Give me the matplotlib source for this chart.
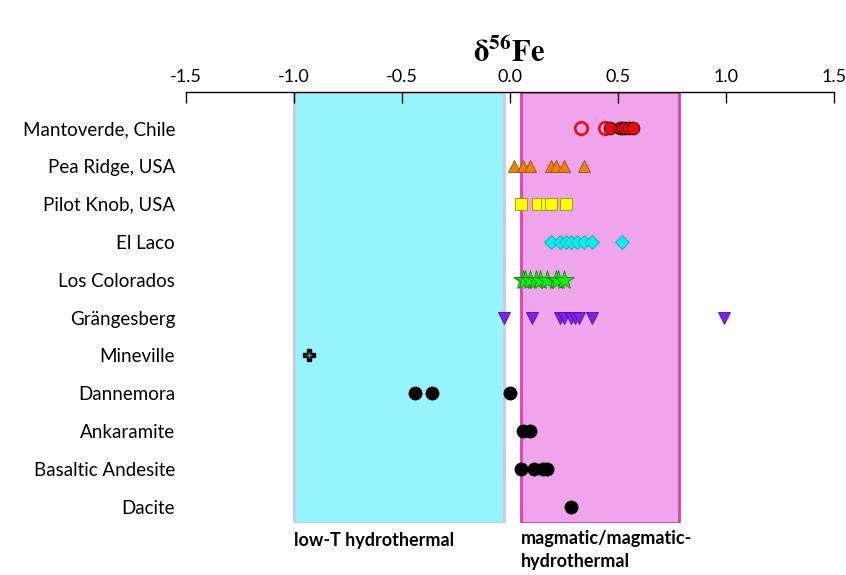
import numpy as np
import matplotlib.pyplot as plt

plt.rcParams['font.family'] = ['Lato', 'DejaVu Sans']

localities = ['Mantoverde, Chile', 'Pea Ridge, USA', 'Pilot Knob, USA', 'El Laco',
              'Los Colorados', 'Grängesberg', 'Mineville', 'Dannemora',
              'Ankaramite', 'Basaltic Andesite', 'Dacite']

# d56Fe values
mantoverde_open = [0.33, 0.44]
mantoverde = [0.46, 0.51, 0.52, 0.53, 0.55, 0.57]
pea_ridge = [0.02, 0.06, 0.09, 0.19, 0.21, 0.25, 0.34]
pilot_knob = [0.05, 0.13, 0.17, 0.19, 0.26]
el_laco = [0.19, 0.23, 0.26, 0.28, 0.31, 0.34, 0.38, 0.52]
los_colorados = [0.06, 0.07, 0.09, 0.12, 0.14, 0.17, 0.21, 0.22, 0.25]
grangesberg = [-0.03, 0.10, 0.23, 0.25, 0.28, 0.30, 0.32, 0.38, 0.99]
mineville = [-0.93]
dannemora = [-0.44, -0.36, 0.0]
ankaramite = [0.06, 0.09]
basaltic_andesite = [0.05, 0.11, 0.15, 0.17]
dacite = [0.28]

low_T = (-1.0, -0.03)
magmatic = (0.05, 0.78)

fig = plt.figure(figsize=(8.46, 5.75), dpi=100)
ax = fig.add_axes([0.22, 0.0904, 0.766, 0.7496])

ax.axvspan(*low_T, facecolor='#95f4fc', edgecolor='#c8c8f6', lw=2, zorder=0)
ax.axvspan(*magmatic, facecolor='#efa5ea', edgecolor='#e03fb0', lw=2, zorder=0)

def row(vals, i):
    return vals, np.full(len(vals), i)

ms = 9
ax.plot(*row(mantoverde_open, 0), 'o', ls='none', ms=ms, mfc='none', mec='red', mew=1.8)
ax.plot(*row(mantoverde, 0), 'o', ls='none', ms=ms, mfc='red', mec='#400000', mew=0.8)
ax.plot(*row(pea_ridge, 1), '^', ls='none', ms=ms, mfc='#f08000', mec='#905020', mew=0.6)
ax.plot(*row(pilot_knob, 2), 's', ls='none', ms=8.5, mfc='#ffff00', mec='#a09000', mew=0.6)
ax.plot(*row(el_laco, 3), 'D', ls='none', ms=7.5, mfc='#00f0f0', mec='#20a0a0', mew=0.6)
ax.plot(*row(los_colorados, 4), '*', ls='none', ms=15, mfc='#10f010', mec='#208020', mew=0.6)
ax.plot(*row(grangesberg, 5), 'v', ls='none', ms=ms, mfc='#8020e8', mec='#5010a0', mew=0.6)
ax.plot(*row(mineville, 6), 'P', ls='none', ms=9, mfc='black', mec='black')
ax.plot(*row(mineville, 6), '+', ls='none', ms=4, color='#20a0a0', mew=1)
ax.plot(*row(dannemora, 7), 'o', ls='none', ms=ms, color='black')
ax.plot(*row(ankaramite, 8), 'o', ls='none', ms=ms, color='black')
ax.plot(*row(basaltic_andesite, 9), 'o', ls='none', ms=ms, color='black')
ax.plot(*row(dacite, 10), 'o', ls='none', ms=ms, color='black')

ax.set_xlim(-1.5, 1.5)
ax.set_ylim(10.42, -0.95)
ax.set_xticks(np.arange(-1.5, 1.51, 0.5))
ax.set_xticklabels([f'{v:.1f}' for v in np.arange(-1.5, 1.51, 0.5)], fontsize=13)
ax.xaxis.tick_top()
ax.tick_params(axis='x', direction='in', length=8, width=1, pad=5)
ax.set_yticks(range(len(localities)))
ax.set_yticklabels(localities, fontsize=13.5)
ax.tick_params(axis='y', length=0, pad=8)
for s in ['bottom', 'left', 'right']:
    ax.spines[s].set_visible(False)
ax.spines['top'].set_linewidth(1)

fig.text(0.602, 0.912, r'$\mathbf{\delta^{56}Fe}$', ha='center', va='center', fontsize=22,
         math_fontfamily='stix')

ax.text(low_T[0], 10.87, 'low-T hydrothermal', fontweight='bold', fontsize=13,
        va='center', ha='left', clip_on=False)
ax.text(magmatic[0], 10.6, 'magmatic/magmatic-\nhydrothermal', fontweight='bold', fontsize=13,
        va='top', ha='left', clip_on=False, linespacing=1.45)

fig.savefig('out.png', dpi=100)
